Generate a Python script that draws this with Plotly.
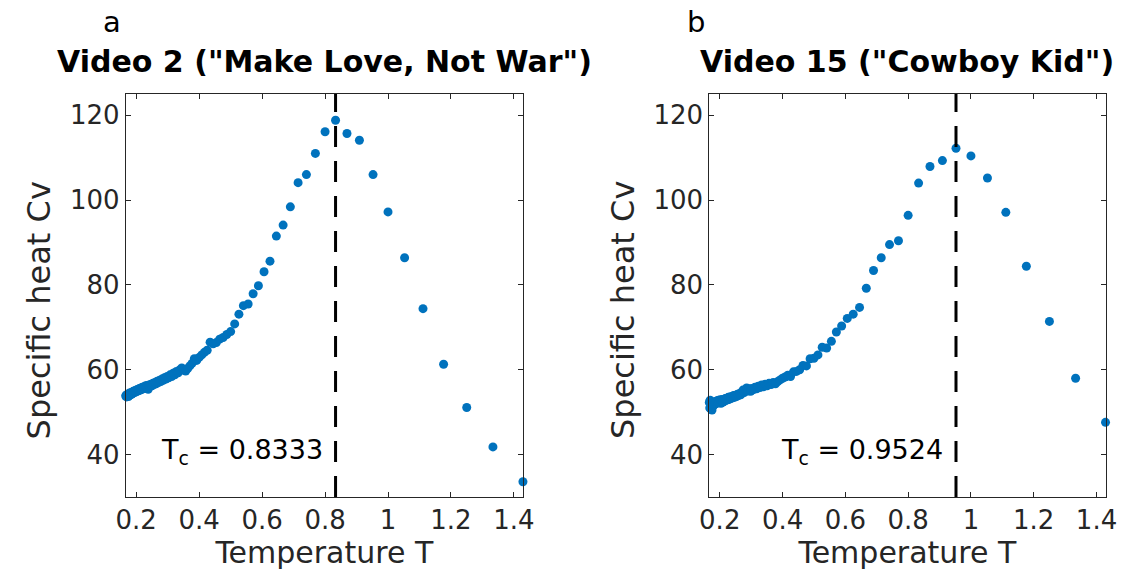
import plotly.graph_objects as go

# Temperatures (shared by both panels)
temperature = [
    0.1667, 0.1681, 0.1695, 0.1709, 0.1724, 0.1739, 0.1754, 0.1770, 0.1786, 0.1802,
    0.1818, 0.1835, 0.1852, 0.1869, 0.1887, 0.1905, 0.1923, 0.1942, 0.1961, 0.1980,
    0.2000, 0.2020, 0.2041, 0.2062, 0.2083, 0.2105, 0.2128, 0.2151, 0.2174, 0.2198,
    0.2222, 0.2247, 0.2273, 0.2299, 0.2326, 0.2353, 0.2381, 0.2410, 0.2439, 0.2469,
    0.2500, 0.2532, 0.2564, 0.2597, 0.2632, 0.2667, 0.2703, 0.2740, 0.2778, 0.2817,
    0.2857, 0.2899, 0.2941, 0.2985, 0.3030, 0.3077, 0.3125, 0.3175, 0.3226, 0.3279,
    0.3333, 0.3390, 0.3448, 0.3509, 0.3571, 0.3636, 0.3704, 0.3774, 0.3846, 0.3922,
    0.4000, 0.4082, 0.4167, 0.4255, 0.4348, 0.4444, 0.4545, 0.4651, 0.4762, 0.4878,
    0.5000, 0.5128, 0.5263, 0.5405, 0.5556, 0.5714, 0.5882, 0.6061, 0.6250, 0.6452,
    0.6667, 0.6897, 0.7143, 0.7407, 0.7692, 0.8000, 0.8333, 0.8696, 0.9091, 0.9524,
    1.0000, 1.0526, 1.1111, 1.1765, 1.2500, 1.3333, 1.4286,
]

# Video 2 ("Make Love, Not War") specific heat
cv_video2 = [
    53.8, 54.0, 53.6, 54.1, 53.9, 54.3, 53.7, 54.2, 54.5, 54.0,
    54.4, 54.6, 54.2, 54.7, 54.4, 54.9, 54.6, 55.0, 54.7, 55.1,
    54.8, 55.3, 55.0, 55.4, 55.1, 55.6, 55.2, 55.7, 55.4, 55.9,
    55.5, 56.0, 55.6, 56.2, 55.8, 56.3, 55.4, 56.4, 56.1, 56.6,
    56.2, 56.8, 56.5, 57.0, 56.7, 57.3, 57.0, 57.5, 57.2, 57.8,
    57.5, 58.1, 57.8, 58.4, 58.1, 58.8, 58.4, 59.2, 58.8, 59.6,
    59.3, 60.0, 60.4, 59.9, 59.7, 60.3, 60.9, 61.5, 62.6, 62.2,
    62.9, 63.5, 64.1, 64.6, 66.5, 66.1, 66.4, 67.2, 67.6, 68.3,
    69.0, 70.8, 73.1, 75.1, 75.5, 77.9, 79.8, 83.1, 85.6, 91.5,
    94.1, 98.4, 104.1, 106.0, 111.0, 116.1, 118.8, 115.7, 114.1, 106.0,
    97.2, 86.4, 74.4, 61.3, 51.1, 41.8, 33.6,
]

# Video 15 ("Cowboy Kid") specific heat
cv_video15 = [
    52.3, 51.0, 52.8, 50.8, 51.8, 52.4, 50.5, 51.4, 52.0, 51.6,
    52.3, 51.8, 52.4, 52.0, 52.6, 52.1, 52.7, 52.3, 52.8, 52.2,
    52.6, 52.9, 52.1, 52.7, 53.0, 52.4, 53.0, 52.6, 53.2, 52.8,
    53.3, 52.9, 53.5, 53.0, 53.6, 53.2, 53.7, 53.4, 53.9, 53.5,
    54.0, 53.7, 54.2, 53.9, 54.4, 54.1, 54.7, 55.2, 54.6, 55.3,
    55.7, 55.0, 55.5, 54.9, 55.6, 55.3, 55.9, 55.5, 56.1, 55.8,
    56.4, 56.0, 56.6, 56.2, 56.8, 56.5, 57.0, 56.7, 57.2, 57.6,
    58.0, 58.3, 58.7, 58.4, 59.5, 59.6, 60.0, 61.0, 60.9, 62.6,
    62.7, 63.5, 65.3, 65.1, 66.7, 68.9, 70.3, 72.1, 73.1, 74.7,
    79.2, 83.4, 86.4, 89.5, 90.4, 96.4, 104.0, 107.9, 109.3, 112.2,
    110.4, 105.2, 97.1, 84.4, 71.4, 58.0, 47.6,
]

critical_temps = [0.8333, 0.9524]
titles = ['Video 2 ("Make Love, Not War")', 'Video 15 ("Cowboy Kid")']
panel_letters = ["a", "b"]
x_ticks = [0.2, 0.4, 0.6, 0.8, 1.0, 1.2, 1.4]
x_ticklabels = ["0.2", "0.4", "0.6", "0.8", "1", "1.2", "1.4"]
y_ticks = [40, 60, 80, 100, 120]
x_range = [0.1667, 1.4286]
y_range = [30, 125]
x_label = "Temperature T"
y_label = "Specific heat Cv"

W, H = 1144, 582
FONT = "DejaVu Sans"
AXC = "#262626"
BLUE = "#0072BD"

# pixel layout of each axes box: (left, right)
boxes = [(118, 523), (713, 1117)]
top_px, bot_px = 94, 497

fig = go.Figure()
series = [cv_video2, cv_video15]

for i, (cv, tc) in enumerate(zip(series, critical_temps)):
    xa = "x" if i == 0 else "x2"
    ya = "y" if i == 0 else "y2"
    fig.add_trace(go.Scatter(
        x=temperature, y=cv, mode="markers",
        marker=dict(color=BLUE, size=9, line=dict(width=0)),
        xaxis=xa, yaxis=ya, showlegend=False, cliponaxis=False,
    ))
    fig.add_trace(go.Scatter(
        x=[tc, tc], y=[y_range[0], y_range[1]], mode="lines",
        line=dict(color="black", width=3, dash="21px,14px"),
        xaxis=xa, yaxis=ya, showlegend=False,
    ))

common_x = dict(
    range=x_range, tickvals=x_ticks, ticktext=x_ticklabels,
    ticks="inside", ticklen=5, tickwidth=1, tickcolor=AXC,
    showline=True, linecolor=AXC, linewidth=1, mirror="allticks",
    showgrid=False, zeroline=False,
    tickfont=dict(family=FONT, size=26, color=AXC),
    title=dict(text=x_label, font=dict(family=FONT, size=30, color=AXC), standoff=0),
)
common_y = dict(
    range=y_range, tickvals=y_ticks,
    ticks="inside", ticklen=5, tickwidth=1, tickcolor=AXC,
    showline=True, linecolor=AXC, linewidth=1, mirror="allticks",
    showgrid=False, zeroline=False,
    tickfont=dict(family=FONT, size=26, color=AXC),
)

ydom = [(H - bot_px) / H, (H - top_px) / H]
fig.update_layout(
    width=W, height=H,
    margin=dict(l=0, r=0, t=0, b=0),
    paper_bgcolor="white", plot_bgcolor="white",
    xaxis=dict(domain=[boxes[0][0] / W, boxes[0][1] / W], anchor="y", **common_x),
    yaxis=dict(domain=ydom, anchor="x", **common_y),
    xaxis2=dict(domain=[boxes[1][0] / W, boxes[1][1] / W], anchor="y2", **common_x),
    yaxis2=dict(domain=ydom, anchor="x2", **common_y),
)

annotations = []
for i, (tc, title, letter) in enumerate(zip(critical_temps, titles, panel_letters)):
    l, r = boxes[i]
    # panel title
    annotations.append(dict(
        text="<b>" + title + "</b>", xref="paper", yref="paper",
        x=(l + r) / 2 / W, y=(H - 62) / H, xanchor="center", yanchor="middle",
        showarrow=False, font=dict(family=FONT, size=30, color="black"),
    ))
    # panel letter
    annotations.append(dict(
        text=letter, xref="paper", yref="paper",
        x=(l - 25) / W, y=(H - 22) / H, xanchor="left", yanchor="middle",
        showarrow=False, font=dict(family=FONT, size=29, color="black"),
    ))
    # y-axis label
    annotations.append(dict(
        text=y_label, xref="paper", yref="paper", textangle=-90,
        x=(l - 88) / W, y=(H - 310) / H,
        xanchor="center", yanchor="middle",
        showarrow=False, font=dict(family=FONT, size=32, color=AXC),
    ))
    # critical temperature label
    annotations.append(dict(
        text="T<sub>c</sub> = " + f"{tc:.4f}",
        xref="x" if i == 0 else "x2", yref="y" if i == 0 else "y2",
        x=tc, y=40.7, xanchor="right", yanchor="middle", xshift=-11,
        showarrow=False, font=dict(family=FONT, size=27, color="black"),
    ))
fig.update_layout(annotations=annotations)

fig.write_html("out.html")
